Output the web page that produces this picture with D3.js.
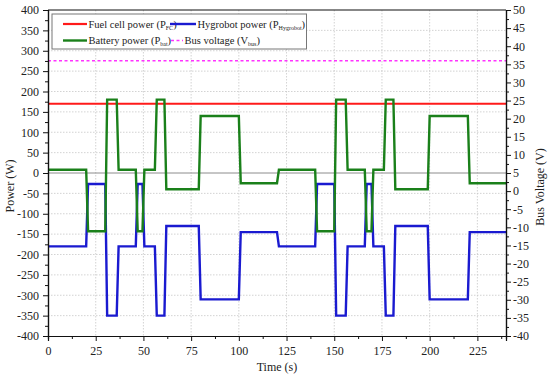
<!DOCTYPE html>
<html><head><meta charset="utf-8">
<script src="https://cdn.jsdelivr.net/npm/d3@7"></script>
<style>
html,body{margin:0;padding:0;background:#fff;}
svg{display:block;font-family:"Liberation Serif","DejaVu Serif",serif;}
</style></head>
<body><svg id="chart" width="550" height="378"></svg>
<script>
// ---- data ----
const time = [0,20,21,30,31,36,37,46,47,49.5,50.5,56,57,61,62,79,80,100,101,120,
              121,140,141,150,151,156,157,166,167,169.5,170.5,176,177,181,182,199,200,220,221,240];
const hygrobotPower = [-180,-180,-27,-27,-350,-350,-180,-180,-27,-27,-180,-180,-350,-350,-130,-130,-310,-310,-145,-145,
                       -180,-180,-27,-27,-350,-350,-180,-180,-27,-27,-180,-180,-350,-350,-130,-130,-310,-310,-145,-145];
const batteryPower = [8,8,-143,-143,180,180,8,8,-143,-143,8,8,180,180,-40,-40,140,140,-25,-25,
                      8,8,-143,-143,180,180,8,8,-143,-143,8,8,180,180,-40,-40,140,140,-25,-25];
const fcTime = [0,240];
const fuelCellPower = [170,170];
const busTime = [0,240];
const busVoltage = [36,36];
const xTicks = [0,25,50,75,100,125,150,175,200,225];
const yLeftTicks = [-400,-350,-300,-250,-200,-150,-100,-50,0,50,100,150,200,250,300,350,400];
const yRightTicks = [-40,-35,-30,-25,-20,-15,-10,-5,0,5,10,15,20,25,30,35,40,45,50];

// ---- layout ----
const L = 48, R = 506, T = 10, B = 336;
const svg = d3.select("#chart");
const x = d3.scaleLinear().domain([0,240]).range([L,R]);
const yL = d3.scaleLinear().domain([-400,400]).range([B,T]);
const yR = d3.scaleLinear().domain([-40,50]).range([B,T]);

// grid
const grid = svg.append("g");
grid.selectAll("line.v").data(xTicks.filter(d=>d>0)).join("line")
  .attr("x1",d=>x(d)).attr("x2",d=>x(d)).attr("y1",T).attr("y2",B)
  .attr("stroke","#c8c8c8").attr("stroke-width",0.8).attr("stroke-dasharray","1.5,1.5");
grid.selectAll("line.h").data(yLeftTicks.filter(d=>d>-400&&d<400&&d!==0)).join("line")
  .attr("x1",L).attr("x2",R).attr("y1",d=>yL(d)).attr("y2",d=>yL(d))
  .attr("stroke","#c8c8c8").attr("stroke-width",0.8).attr("stroke-dasharray","1.5,1.5");
svg.append("line").attr("x1",L).attr("x2",R).attr("y1",yL(0)).attr("y2",yL(0))
  .attr("stroke","#8c8c8c").attr("stroke-width",1);

// lines
const lineL = d3.line().x(d=>x(d[0])).y(d=>yL(d[1]));
const lineR = d3.line().x(d=>x(d[0])).y(d=>yR(d[1]));
svg.append("path").datum(fcTime.map((t,i)=>[t,fuelCellPower[i]])).attr("d",lineL)
  .attr("fill","none").attr("stroke","#ff1a1a").attr("stroke-width",2.2);
svg.append("path").datum(time.map((t,i)=>[t,hygrobotPower[i]])).attr("d",lineL)
  .attr("fill","none").attr("stroke","#1a1ad0").attr("stroke-width",2.4).attr("stroke-linejoin","miter");
svg.append("path").datum(time.map((t,i)=>[t,batteryPower[i]])).attr("d",lineL)
  .attr("fill","none").attr("stroke","#1a801a").attr("stroke-width",2.4).attr("stroke-linejoin","miter");
svg.append("path").datum(busTime.map((t,i)=>[t,busVoltage[i]])).attr("d",lineR)
  .attr("fill","none").attr("stroke","#ff33ff").attr("stroke-width",1.5).attr("stroke-dasharray","3,2.5");

// frame
svg.append("line").attr("x1",L).attr("x2",R).attr("y1",T).attr("y2",T).attr("stroke","#111").attr("stroke-width",1.2);

// axes
const fs = "12px";
const minorX = d3.range(12.5,240,25);
const minorL = d3.range(-375,400,50);
const minorR = d3.range(-37.5,50,5);

svg.append("g").attr("transform",`translate(0,${B})`)
  .call(d3.axisBottom(x).tickValues(xTicks).tickSize(5).tickPadding(5).tickFormat(d3.format("d")));
svg.append("g").attr("transform",`translate(0,${B})`)
  .call(d3.axisBottom(x).tickValues(minorX).tickSize(3).tickFormat(""));
svg.append("g").attr("transform",`translate(${L},0)`)
  .call(d3.axisLeft(yL).tickValues(yLeftTicks).tickSize(5).tickPadding(4).tickFormat(d3.format("d")));
svg.append("g").attr("transform",`translate(${L},0)`)
  .call(d3.axisLeft(yL).tickValues(minorL).tickSize(3).tickFormat(""));
svg.append("g").attr("transform",`translate(${R},0)`)
  .call(d3.axisRight(yR).tickValues(yRightTicks).tickSize(5).tickPadding(2).tickFormat(d3.format("d")));
svg.append("g").attr("transform",`translate(${R},0)`)
  .call(d3.axisRight(yR).tickValues(minorR).tickSize(3).tickFormat(""));
svg.selectAll(".domain").attr("stroke","#111").attr("stroke-width",1.2);
svg.selectAll(".tick line").attr("stroke","#111");
svg.selectAll(".tick text").attr("font-family","Liberation Serif, serif").attr("font-size",fs).attr("fill","#222");
svg.selectAll(".tick text").text(function(){return d3.select(this).text().replace("−","-");});

// axis titles
svg.append("text").attr("x",(L+R)/2).attr("y",371).attr("text-anchor","middle")
  .attr("font-size","12px").attr("fill","#222").text("Time (s)");
svg.append("text").attr("transform","translate(14,186) rotate(-90)").attr("text-anchor","middle")
  .attr("font-size","12px").attr("fill","#222").text("Power (W)");
svg.append("text").attr("transform","translate(544,187) rotate(-90)").attr("text-anchor","middle")
  .attr("font-size","12px").attr("fill","#222").text("Bus Voltage (V)");

// legend
const lg = svg.append("g");
lg.append("rect").attr("x",52).attr("y",14).attr("width",254.5).attr("height",35)
  .attr("fill","#fff").attr("stroke","#777").attr("stroke-width",1);
const items = [
  {x:63, y:24, len:24, color:"#ff1a1a", w:2.2, dash:null, main:"Fuel cell power (P", sub:"FC"},
  {x:170, y:24, len:26, color:"#1a1ad0", w:2.4, dash:null, main:"Hygrobot power (P", sub:"Hygrobot"},
  {x:63, y:40.5, len:24, color:"#1a801a", w:2.4, dash:null, main:"Battery power (P", sub:"bat"},
  {x:171, y:40.5, len:12, color:"#ff33ff", w:1.5, dash:"3,2.5", main:"Bus voltage (V", sub:"bus"}
];
items.forEach(it=>{
  lg.append("line").attr("x1",it.x).attr("x2",it.x+it.len).attr("y1",it.y).attr("y2",it.y)
    .attr("stroke",it.color).attr("stroke-width",it.w).attr("stroke-dasharray",it.dash);
  const t = lg.append("text").attr("x",it.x+it.len+1.5).attr("y",it.y+3.8)
    .attr("font-size","10.5px").attr("fill","#222");
  t.append("tspan").text(it.main);
  t.append("tspan").attr("font-size","6px").attr("dy",2).text(it.sub);
  t.append("tspan").attr("dy",-2).text(")");
});
</script></body></html>
